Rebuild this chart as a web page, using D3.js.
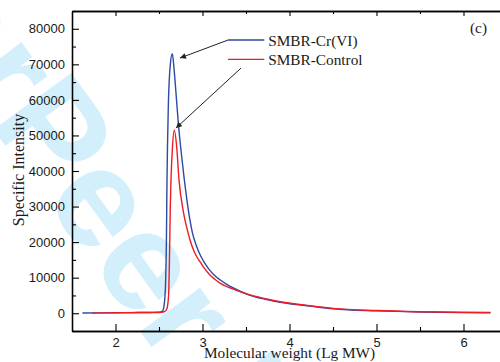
<!DOCTYPE html>
<html>
<head>
<meta charset="utf-8">
<script src="https://cdn.jsdelivr.net/npm/d3@7"></script>
<style>
  html, body { margin: 0; padding: 0; background: #fff; }
  svg { display: block; }
</style>
</head>
<body>
<svg id="chart" width="500" height="362"></svg>
<script>
// ---- data ----
const seriesNames = ["SMBR-Cr(VI)", "SMBR-Control"];
const crLgMW = [1.62, 1.8, 2.0, 2.2, 2.4, 2.5, 2.54, 2.56, 2.575, 2.585, 2.592, 2.607, 2.63, 2.653, 2.672, 2.692, 2.722, 2.761, 2.791, 2.82, 2.85, 2.887, 2.93, 2.971, 3.02, 3.08, 3.14, 3.201, 3.28, 3.354, 3.45, 3.546, 3.738, 3.929, 4.236, 4.5, 5.0, 5.5, 6.0, 6.31];
const crVal  = [50, 100, 150, 180, 220, 260, 600, 2500, 8000, 20000, 37500, 58000, 70000, 73000, 69000, 63000, 53500, 44000, 37500, 32000, 27000, 22300, 19000, 16500, 14300, 12200, 10600, 9400, 8100, 7100, 6000, 5050, 3850, 2950, 2000, 1250, 650, 330, 180, 130];
const ctLgMW = [1.73, 1.9, 2.1, 2.3, 2.5, 2.56, 2.59, 2.61, 2.62, 2.63, 2.638, 2.653, 2.676, 2.703, 2.73, 2.78, 2.82, 2.856, 2.91, 2.971, 3.02, 3.08, 3.14, 3.201, 3.28, 3.354, 3.45, 3.546, 3.738, 3.929, 4.236, 4.5, 5.0, 5.5, 6.0, 6.31];
const ctVal  = [40, 100, 150, 190, 220, 400, 1200, 5000, 15000, 30000, 37500, 46000, 51500, 46900, 37500, 28500, 24000, 20650, 17000, 14500, 12700, 10900, 9600, 8450, 7500, 6800, 5900, 5150, 4000, 3100, 2100, 1350, 750, 420, 260, 200];
const xTicks = [2, 3, 4, 5, 6];
const xMinorTicks = [2.5, 3.5, 4.5, 5.5];
const yTicks = [0, 10000, 20000, 30000, 40000, 50000, 60000, 70000, 80000];
const yMinorTicks = [-5000, 5000, 15000, 25000, 35000, 45000, 55000, 65000, 75000, 85000];
// annotation arrows (data units)
const arrowFromX = [3.293, 3.443];
const arrowFromY = [76830, 68950];
const arrowToX = [2.741, 2.695];
const arrowToY = [71770, 52080];
const xTitle = "Molecular weight (Lg MW)";
const yTitle = "Specific Intensity";
const panelLabel = "(c)";
const watermarkA = "For ";
const watermarkB = "Peer Review";

// ---- layout ----
const svg = d3.select("#chart");
const x = d3.scaleLinear().domain([1.5, 6.5]).range([72, 507]);
const y = d3.scaleLinear().domain([-5000, 85000]).range([331, 11]);
const blue = "#2c4aa6", red = "#ee1c25";
const sans = "'Liberation Sans', Arial, sans-serif";
const serif = "'Liberation Serif', 'Times New Roman', serif";

// watermark
const wm = svg.append("g").attr("transform", "translate(-12,122) rotate(54)")
  .attr("font-family", sans).attr("font-weight", "bold").attr("font-size", 140)
  .attr("fill", "#d3effb");
wm.append("text").attr("text-anchor", "end").text(watermarkA);
wm.append("text").attr("text-anchor", "start").text(watermarkB);

// axes
function styleAxis(g) {
  g.selectAll("path").attr("stroke", "#000").attr("stroke-width", 1.3);
  g.selectAll("line").attr("stroke", "#000").attr("stroke-width", 1.1);
  g.selectAll("text").attr("font-family", sans).attr("font-size", 13).attr("fill", "#1a1a1a");
}
svg.append("g").attr("transform", `translate(0,${y.range()[0]})`)
  .call(d3.axisBottom(x).tickValues(xTicks).tickFormat(d3.format("d")).tickSizeInner(-7).tickSizeOuter(0).tickPadding(7))
  .call(styleAxis);
svg.append("g").attr("transform", `translate(0,${y.range()[0]})`)
  .call(d3.axisBottom(x).tickValues(xMinorTicks).tickFormat("").tickSizeInner(-4).tickSizeOuter(0))
  .call(styleAxis);
svg.append("g").attr("transform", `translate(0,${y.range()[1]})`)
  .call(d3.axisTop(x).tickValues(xTicks).tickFormat("").tickSizeInner(-5).tickSizeOuter(0))
  .call(styleAxis);
svg.append("g").attr("transform", `translate(0,${y.range()[1]})`)
  .call(d3.axisTop(x).tickValues(xMinorTicks).tickFormat("").tickSizeInner(-3).tickSizeOuter(0))
  .call(styleAxis);
svg.append("g").attr("transform", `translate(${x.range()[0]},0)`)
  .call(d3.axisLeft(y).tickValues(yTicks).tickFormat(d3.format("d")).tickSizeInner(-7).tickSizeOuter(0).tickPadding(7))
  .call(styleAxis);
svg.append("g").attr("transform", `translate(${x.range()[0]},0)`)
  .call(d3.axisLeft(y).tickValues(yMinorTicks).tickFormat("").tickSizeInner(-4).tickSizeOuter(0))
  .call(styleAxis);
svg.append("g").attr("transform", `translate(${x.range()[1]},0)`)
  .call(d3.axisRight(y).tickValues(yTicks).tickFormat("").tickSizeInner(-5).tickSizeOuter(0))
  .call(styleAxis);

// lines
const line = d3.line().x(d => x(d[0])).y(d => y(d[1])).curve(d3.curveMonotoneX);
const crData = crLgMW.map((v, i) => [v, crVal[i]]);
const ctData = ctLgMW.map((v, i) => [v, ctVal[i]]);
svg.append("path").datum(crData).attr("d", line).attr("fill", "none").attr("stroke", blue).attr("stroke-width", 1.4);
svg.append("path").datum(ctData).attr("d", line).attr("fill", "none").attr("stroke", red).attr("stroke-width", 1.4);

// legend
const legX0 = x(3.293), legX1 = x(3.71);
const legY = [y(76830), y(71400)];
const legColors = [blue, red];
seriesNames.forEach((name, i) => {
  svg.append("line").attr("x1", legX0).attr("x2", legX1).attr("y1", legY[i]).attr("y2", legY[i])
    .attr("stroke", legColors[i]).attr("stroke-width", 1.4);
  svg.append("text").attr("x", legX1 + 4).attr("y", legY[i] + 6)
    .attr("font-family", serif).attr("font-size", 15.3).attr("fill", "#1a1a1a").text(name);
});

// arrows
svg.append("defs").append("marker").attr("id", "ah").attr("viewBox", "0 0 10 10")
  .attr("refX", 10).attr("refY", 5).attr("markerWidth", 7).attr("markerHeight", 6)
  .attr("markerUnits", "userSpaceOnUse").attr("orient", "auto")
  .append("path").attr("d", "M0,0 L10,5 L0,10 Z").attr("fill", "#222");
arrowFromX.forEach((fx, i) => {
  svg.append("line").attr("x1", x(fx)).attr("y1", y(arrowFromY[i]))
    .attr("x2", x(arrowToX[i])).attr("y2", y(arrowToY[i]))
    .attr("stroke", "#222").attr("stroke-width", 1).attr("marker-end", "url(#ah)");
});

// texts
svg.append("text").attr("x", 470).attr("y", 33).attr("font-family", serif).attr("font-size", 15.3)
  .attr("fill", "#1a1a1a").text(panelLabel);
svg.append("text").attr("x", 289.5).attr("y", 358).attr("text-anchor", "middle")
  .attr("font-family", serif).attr("font-size", 15.3).attr("fill", "#1a1a1a").text(xTitle);
svg.append("text").attr("transform", "translate(24,170) rotate(-90)").attr("text-anchor", "middle")
  .attr("font-family", serif).attr("font-size", 16).attr("fill", "#1a1a1a").text(yTitle);
</script>
</body>
</html>
